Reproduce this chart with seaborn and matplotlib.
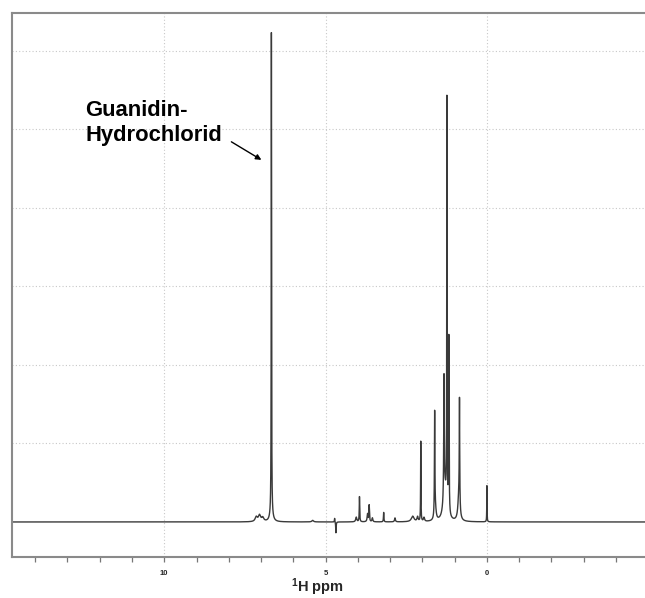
import numpy as np
import pandas as pd
import matplotlib
matplotlib.use("Agg")
import matplotlib.pyplot as plt
import seaborn as sns

# Peak table (ppm, height, half-width in ppm)
peak_ppm = [7.15, 7.05, 6.95, 6.68, 6.68, 5.40, 4.72, 4.68, 4.05, 3.95, 3.70, 3.65,
            3.55, 3.20, 2.85, 2.30, 2.15, 2.05, 1.95, 1.62, 1.60, 1.33, 1.30, 1.24,
            1.18, 0.87, 0.85, 0.00]
peak_height = [0.06, 0.08, 0.05, 6.13, 0.10, 0.02, 0.05, -0.14, 0.06, 0.32, 0.10, 0.21,
               0.05, 0.12, 0.05, 0.07, 0.06, 1.02, 0.05, 1.30, 0.15, 1.55, 0.38, 5.18,
               2.25, 0.30, 1.35, 0.46]
peak_width = [0.04, 0.04, 0.04, 0.006, 0.05, 0.03, 0.008, 0.008, 0.02, 0.008, 0.015, 0.01,
              0.015, 0.008, 0.015, 0.05, 0.02, 0.006, 0.02, 0.008, 0.03, 0.01, 0.06, 0.006,
              0.008, 0.035, 0.008, 0.005]

x_left, x_right = 14.72, -4.9
grid_ppm_ticks = [10, 5, 0]
tick_labels = ["10", "5", "0"]

ppm = np.linspace(x_left, x_right, 30000)
intensity = np.zeros_like(ppm)
for p, h, w in zip(peak_ppm, peak_height, peak_width):
    intensity += h * w**2 / ((ppm - p) ** 2 + w**2)

df = pd.DataFrame({"ppm": ppm, "intensity": intensity})

sns.set_style("white")
plt.rcParams["font.family"] = ["Liberation Sans", "DejaVu Sans"]
plt.rcParams["mathtext.fontset"] = "custom"
plt.rcParams["mathtext.rm"] = "Liberation Sans"
plt.rcParams["mathtext.bf"] = "Liberation Sans:bold"

fig = plt.figure(figsize=(6.45, 5.98), dpi=100)
ax = fig.add_axes([12 / 645, 1 - 557 / 598, 1 - 12 / 645, (557 - 13) / 598])

# grid
for yv in [1, 2, 3, 4, 5, 6]:
    ax.axhline(yv, color="#c8c8c8", lw=0.8, ls=(0, (1, 2)), zorder=0)
for xv in grid_ppm_ticks:
    ax.axvline(xv, color="#c8c8c8", lw=0.8, ls=(0, (1, 2)), zorder=0)

sns.lineplot(data=df, x="ppm", y="intensity", ax=ax, color="#3a3a3a", lw=1.0,
             sort=False, estimator=None)

ax.set_xlim(x_left, x_right)
ax.set_ylim(-0.446, 6.48)

ax.set_xticks(grid_ppm_ticks)
ax.set_xticklabels(tick_labels, fontsize=5.5, fontweight="bold")
ax.set_xticks(np.arange(-4, 15, 1), minor=True)
ax.tick_params(axis="x", which="both", bottom=True, direction="out", length=3.5,
               width=0.9, color="#777777", pad=6)
ax.set_yticks([])
ax.set_ylabel("")
ax.set_xlabel(r"$\mathbf{^{1}}$H ppm", fontsize=10.5, fontweight="bold")
ax.xaxis.set_label_coords(0.483, -0.036)

for side in ["left", "top", "bottom"]:
    ax.spines[side].set_color("#8a8a8a")
    ax.spines[side].set_linewidth(1.5)
ax.spines["right"].set_visible(False)

ax.text(12.45, 5.37, "Guanidin-\nHydrochlorid", fontsize=15.8, fontweight="bold",
        ha="left", va="top", linespacing=1.25, color="black")
ax.annotate("", xy=(6.99, 4.61), xytext=(7.92, 4.84),
            arrowprops=dict(arrowstyle="-|>", color="black", lw=1.0,
                            mutation_scale=8, shrinkA=0, shrinkB=0))

fig.savefig("out.png", dpi=100)
